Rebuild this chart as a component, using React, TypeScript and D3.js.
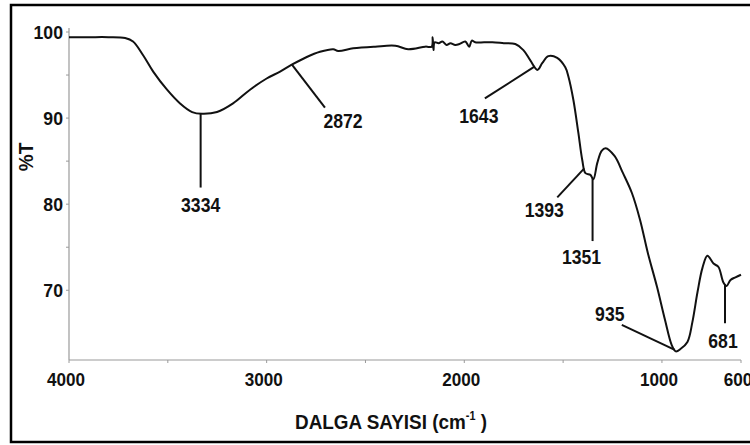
import * as d3 from 'd3';

// IR spectrum: wavenumber (cm-1) vs %T
const wavenumbers = [
  4000, 3900, 3800, 3716, 3676, 3625, 3574, 3504, 3438, 3377, 3327, 3251, 3170, 3084, 3000,
  2932, 2873, 2797, 2730, 2663, 2638, 2562, 2451, 2349, 2284, 2197, 2165, 2160, 2156, 2150,
  2130, 2111, 2090, 2070, 2046, 2025, 1995, 1975, 1962, 1945, 1900, 1858, 1800, 1742, 1701,
  1666, 1630, 1605, 1575, 1530, 1489, 1473, 1448, 1423, 1403, 1387, 1362, 1347, 1327, 1305,
  1285, 1240, 1197, 1152, 1111, 1071, 1025, 985, 950, 930, 905, 871, 846, 820, 795, 770, 739,
  714, 689, 673, 653, 628, 600,
];
const transmittance = [
  99.4, 99.4, 99.4, 99.3, 98.9, 97.3, 95.4, 93.3, 91.7, 90.7, 90.5, 90.7, 91.7, 93.3, 94.6,
  95.4, 96.2, 97.1, 97.7, 98.0, 97.8, 98.1, 98.3, 98.4, 98.0, 98.3, 98.3, 99.4, 97.9, 98.8,
  98.7, 98.9, 98.5, 98.7, 98.5, 98.6, 98.9, 98.3, 99.0, 98.8, 98.8, 98.8, 98.7, 98.6, 97.9,
  96.7, 95.6, 96.4, 97.2, 97.0, 95.9, 94.8, 92.1, 88.3, 85.1, 83.6, 83.4, 82.9, 84.8, 86.2,
  86.5, 85.6, 83.6, 81.3, 78.2, 74.3, 70.4, 66.6, 63.6, 62.9, 63.2, 64.0, 66.3, 69.8, 72.6,
  74.0, 73.1, 72.7, 70.9, 70.5, 71.2, 71.5, 71.8,
];

const peakLabels = ['3334', '2872', '1643', '1393', '1351', '935', '681'];
const peakWavenumbers = [3334, 2872, 1643, 1393, 1351, 935, 681];

const xTicks = [4000, 3000, 2000, 1000, 600];
const xMinorTicks = [3500, 2500, 1500];
const yTicks = [100, 90, 80, 70];
const yMinorTicks = [95, 85, 75];

// leader line end offsets (px) and label offsets relative to line end
const leaderLayout = [
  { dx: 0, dy: 74, lx: 0, ly: 24 },
  { dx: 33, dy: 43, lx: 18, ly: 20 },
  { dx: -50, dy: 32, lx: -6, ly: 25 },
  { dx: -27, dy: 29, lx: -13, ly: 20 },
  { dx: 0, dy: 63, lx: -11, ly: 23 },
  { dx: -53, dy: -25, lx: -12, ly: -4 },
  { dx: 0, dy: 39, lx: -2, ly: 25 },
];

const W = 750;
const H = 445;
const font = 'Liberation Sans, Arial, sans-serif';

type LabelProps = {
  x: number;
  y: number;
  size: number;
  sx?: number;
  anchor?: 'start' | 'middle' | 'end';
  rotate?: number;
  children: React.ReactNode;
};

const Label = ({ x, y, size, sx = 1, anchor = 'middle', rotate = 0, children }: LabelProps) => (
  <g transform={`translate(${x},${y}) rotate(${rotate}) scale(${sx},1)`}>
    <text textAnchor={anchor} fontSize={size} fontWeight="bold" fill="#111">
      {children}
    </text>
  </g>
);

export default function App() {
  const x = d3.scaleLinear().domain([4000, 600]).range([69, 741]);
  const y = d3.scaleLinear().domain([61.9, 100]).range([360, 32]);

  const points = wavenumbers.map((w, i) => [w, transmittance[i]] as [number, number]);
  const line = d3
    .line<[number, number]>()
    .x((d) => x(d[0]))
    .y((d) => y(d[1]))
    .curve(d3.curveCatmullRom.alpha(0.5));

  // %T at a peak
  const interp = (w: number) => {
    for (let i = 0; i < wavenumbers.length - 1; i++) {
      const a = wavenumbers[i];
      const b = wavenumbers[i + 1];
      if (w <= a && w >= b) {
        const t = (a - w) / (a - b);
        return transmittance[i] + t * (transmittance[i + 1] - transmittance[i]);
      }
    }
    return transmittance[transmittance.length - 1];
  };

  const axisColor = '#9a9a9a';

  return (
    <svg
      width={W}
      height={H}
      style={{ position: 'absolute', left: 0, top: 0, background: '#fff' }}
      fontFamily={font}
    >
      <rect x={11} y={5} width={760} height={437} fill="#fff" stroke="#000" strokeWidth={2.5} />

      {/* axes */}
      <line x1={x(4000)} x2={x(600)} y1={y(61.9)} y2={y(61.9)} stroke={axisColor} strokeWidth={1.2} />
      <line x1={x(4000)} x2={x(4000)} y1={y(61.9)} y2={28} stroke={axisColor} strokeWidth={1.2} />

      {[...xTicks, ...xMinorTicks].map((t) => (
        <line key={'xt' + t} x1={x(t)} x2={x(t)} y1={360} y2={363} stroke={axisColor} strokeWidth={1} />
      ))}
      {[...yTicks, ...yMinorTicks].map((t) => (
        <line key={'yt' + t} x1={66} x2={69} y1={y(t)} y2={y(t)} stroke={axisColor} strokeWidth={1} />
      ))}

      {xTicks.map((t) => (
        <Label key={'xl' + t} x={x(t) - 3} y={386} size={19} sx={0.9}>
          {t}
        </Label>
      ))}
      {yTicks.map((t) => (
        <Label key={'yl' + t} x={63} y={y(t) + 7} size={19} sx={0.93} anchor="end">
          {t}
        </Label>
      ))}

      <Label x={33} y={157} size={20} sx={0.95} rotate={-90}>
        %T
      </Label>
      <Label x={391} y={429} size={21} sx={0.9}>
        DALGA SAYISI (cm
        <tspan fontSize={12} dy={-9}>-1</tspan>
        <tspan dy={9}> )</tspan>
      </Label>

      {/* spectrum */}
      <path d={line(points) || ''} fill="none" stroke="#111" strokeWidth={2} strokeLinejoin="round" />

      {/* peak annotations */}
      {peakWavenumbers.map((w, i) => {
        const px = x(w);
        const py = y(interp(w));
        const l = leaderLayout[i];
        const ex = px + l.dx;
        const ey = py + l.dy;
        return (
          <g key={'pk' + w}>
            <line x1={px} y1={py} x2={ex} y2={ey} stroke="#111" strokeWidth={2} />
            <Label x={ex + l.lx} y={ey + l.ly} size={20} sx={0.88}>
              {peakLabels[i]}
            </Label>
          </g>
        );
      })}
    </svg>
  );
}
